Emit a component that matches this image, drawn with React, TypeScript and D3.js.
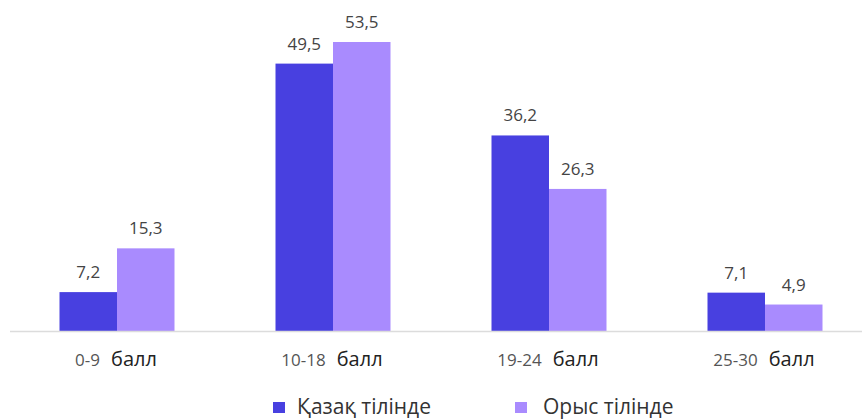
import React from "react";
import * as d3 from "d3";

const categories = ["0-9", "10-18", "19-24", "25-30"];
const unitLabel = "балл";
const seriesNames = ["Қазақ тілінде", "Орыс тілінде"];
const kazakhValues = [7.2, 49.5, 36.2, 7.1];
const russianValues = [15.3, 53.5, 26.3, 4.9];
const colors = ["#4840E0", "#A98BFE"];

const W = 862;
const H = 419;
const FONT = "'Open Sans', 'Noto Sans', sans-serif";

export default function App() {
  const x0 = d3.scaleBand<string>().domain(categories).range([9, 873]).padding(0);
  const x1 = d3
    .scaleBand<string>()
    .domain(seriesNames)
    .range([50.5, 165.5])
    .padding(0);
  const y = d3.scaleLinear().domain([0, 53.5]).range([331, 42]);
  const fmt = (v: number) => v.toFixed(1).replace(".", ",");
  const series = [kazakhValues, russianValues];

  return (
    <svg
      width={W}
      height={H}
      style={{ position: "absolute", left: 0, top: 0, background: "#fff" }}
      fontFamily={FONT}
    >
      {categories.map((c, i) => (
        <g key={c} transform={`translate(${x0(c)},0)`}>
          {seriesNames.map((s, j) => {
            const v = series[j][i];
            const bx = x1(s)!;
            return (
              <g key={s}>
                <rect
                  x={bx}
                  y={y(v)}
                  width={x1.bandwidth()}
                  height={y(0) - y(v)}
                  fill={colors[j]}
                />
                <text
                  x={bx + x1.bandwidth() / 2}
                  y={y(v) - 14}
                  textAnchor="middle"
                  fontSize={17}
                  fill="#444"
                >
                  {fmt(v)}
                </text>
              </g>
            );
          })}
        </g>
      ))}
      <line x1={10} x2={862} y1={331.5} y2={331.5} stroke="#dcdcdc" strokeWidth={1.5} />
      {categories.map((c) => (
        <text
          key={c}
          x={x0(c)! + x0.bandwidth() / 2 - 1}
          y={366}
          textAnchor="middle"
        >
          <tspan fill="#555" fontSize={17}>
            {c}
          </tspan>
          <tspan dx={11} fill="#222" fontSize={20}>
            {unitLabel}
          </tspan>
        </text>
      ))}
      {seriesNames.map((s, j) => {
        const lx = [273, 515][j];
        return (
          <g key={s} transform={`translate(${lx},0)`}>
            <rect x={0} y={402} width={12} height={11} fill={colors[j]} />
            <text x={j === 0 ? 24 : 28} y={414} fontSize={21} fill="#333">
              {s}
            </text>
          </g>
        );
      })}
    </svg>
  );
}
